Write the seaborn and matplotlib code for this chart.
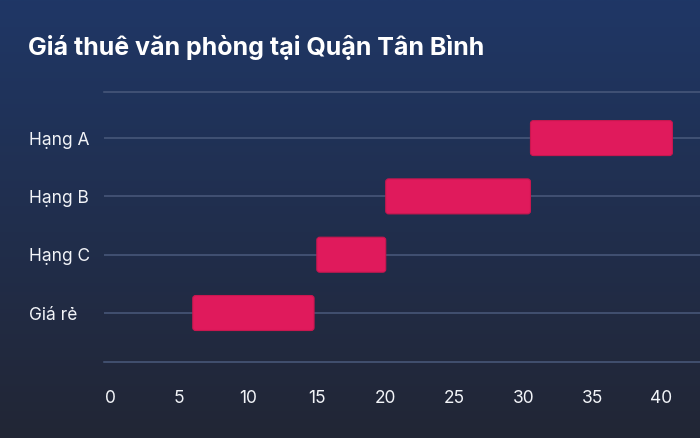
import matplotlib
matplotlib.use("Agg")
import matplotlib.pyplot as plt
import numpy as np
import pandas as pd
import seaborn as sns
from matplotlib.patches import FancyBboxPatch

# Data: office rent range per class (USD/m2/month)
categories = ["Hạng A", "Hạng B", "Hạng C", "Giá rẻ"]
price_low = [30.5, 20.0, 15.0, 6.0]
price_high = [40.8, 30.5, 20.0, 14.8]
x_ticks = [0, 5, 10, 15, 20, 25, 30, 35, 40]
title = "Giá thuê văn phòng tại Quận Tân Bình"

BAR_COLOR = "#e01a5c"
GRID_COLOR = "#4a5a7c"
TEXT_COLOR = "#f2f4f8"


def main() -> None:
    sns.set_theme(style="white")
    plt.rcParams["font.family"] = ["Inter", "DejaVu Sans"]

    df = pd.DataFrame({"cat": categories, "low": price_low, "high": price_high})

    fig = plt.figure(figsize=(7, 4.38), dpi=100)

    # background gradient
    bg = fig.add_axes([0, 0, 1, 1], zorder=-10)
    top = np.array([0x1f, 0x37, 0x66]) / 255
    bot = np.array([0x22, 0x26, 0x35]) / 255
    t = np.linspace(0, 1, 256)[:, None]
    grad = (top[None, :] * (1 - t) + bot[None, :] * t)[:, None, :]
    bg.imshow(grad, aspect="auto", extent=[0, 1, 0, 1])
    bg.axis("off")

    ax = fig.add_axes([104 / 700, 1 - 362 / 438, 1 - 104 / 700, (362 - 92) / 438])
    ax.set_facecolor("none")

    sns.barplot(data=df, x="high", y="cat", order=categories, color=BAR_COLOR,
                width=0.6, orient="h", ax=ax)

    # turn plain bars into floating, slightly rounded range bars
    for patch, lo, hi in zip(list(ax.patches), df["low"], df["high"]):
        y0 = patch.get_y()
        h = patch.get_height()
        patch.remove()
        ax.add_patch(FancyBboxPatch(
            (lo, y0), hi - lo, h,
            boxstyle="round,pad=0,rounding_size=0.22",
            mutation_aspect=0.22,
            facecolor=BAR_COLOR, edgecolor="#c8174f", linewidth=0.8, zorder=3,
        ))

    ax.set_xlim(-0.44, 42.8)
    ax.set_ylim(3.84, -0.79)
    ax.set_xticks(x_ticks)
    ax.set_xticklabels([str(v) for v in x_ticks])
    ax.set_xlabel("")
    ax.set_ylabel("")

    for i in range(len(categories)):
        ax.axhline(i, color=GRID_COLOR, linewidth=1.1, zorder=1)

    for side in ["left", "right"]:
        ax.spines[side].set_visible(False)
    for side in ["top", "bottom"]:
        ax.spines[side].set_color(GRID_COLOR)
        ax.spines[side].set_linewidth(1.1)

    ax.tick_params(axis="x", length=0, pad=20, labelsize=12.5, labelcolor=TEXT_COLOR)
    ax.tick_params(axis="y", length=0, pad=54, labelsize=12.5, labelcolor=TEXT_COLOR)
    for lab in ax.get_yticklabels():
        lab.set_horizontalalignment("left")

    fig.text(28 / 700, 1 - 47 / 438, title, color="white", fontsize=18,
             fontweight="bold", ha="left", va="center")

    fig.savefig("out.png", dpi=100)
    plt.close(fig)


if __name__ == "__main__":
    main()
